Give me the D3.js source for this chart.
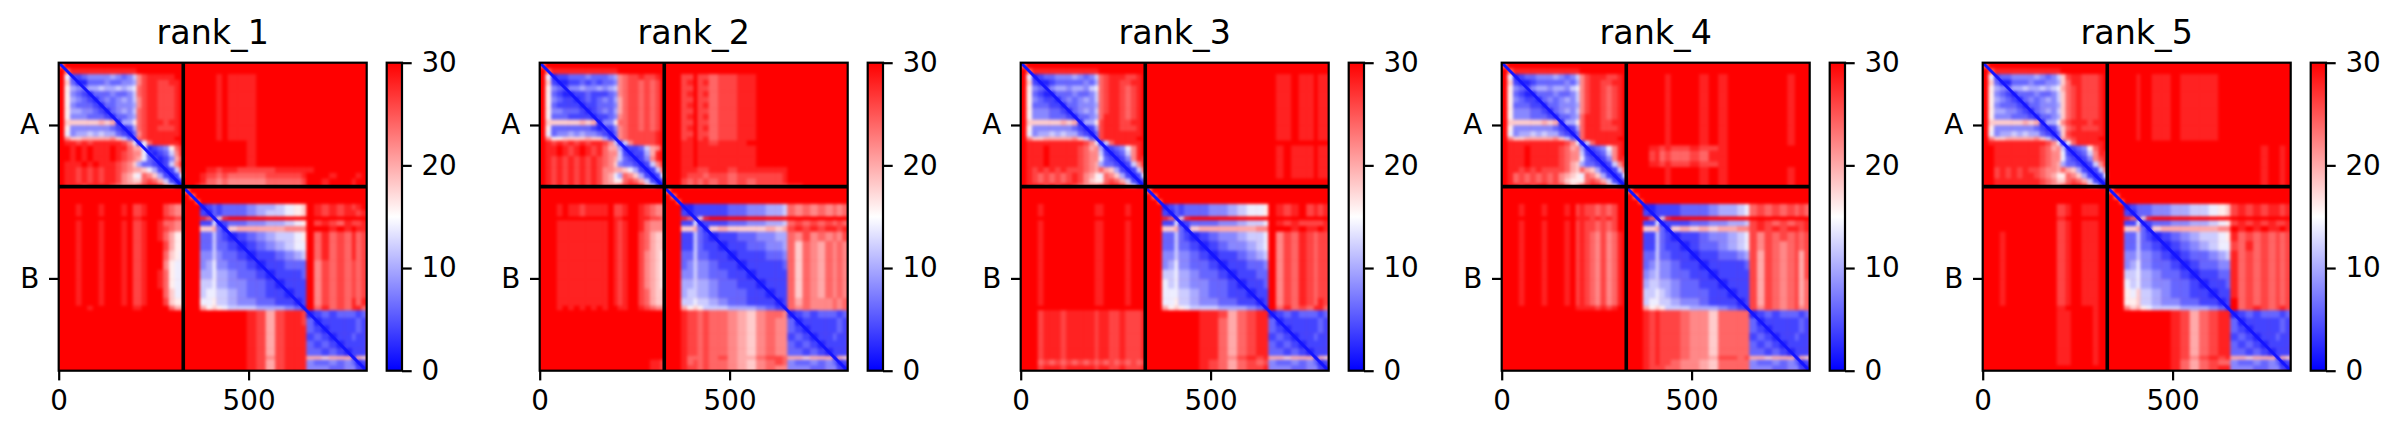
<!DOCTYPE html>
<html>
<head>
<meta charset="utf-8">
<script src="https://cdnjs.cloudflare.com/ajax/libs/d3/7.8.5/d3.min.js"></script>
<style>
body { margin: 0; background: #fff; }
text { font-family: "DejaVu Sans", sans-serif; fill: #000; }
</style>
</head>
<body>
<svg id="chart"></svg>
<script>
const rankTitles = ["rank_1", "rank_2", "rank_3", "rank_4", "rank_5"];
const chainLabels = ["A", "B"];
const chainTicks = [164, 568];
const chainBreak = 328;
const residueCount = 811;
const residueTicks = [0, 500];
const paeTicks = [0, 10, 20, 30];

// bin edges in residues, tighter where the blocks change
const residueEdges = [0, 15, 30, 45, 60, 75, 90, 105, 120, 135, 150, 165, 180, 195, 205, 218, 232, 246, 260, 275, 290, 305, 318, 328,
    345, 360, 372, 388, 405, 415, 430, 445, 470, 495, 520, 545, 570, 595, 620, 640, 652, 672, 692, 712, 732, 752, 772, 782, 797, 811];

// each char is PAE / 2 in hex. AA, AB = chain A rows, BA, BB = chain B rows
const rank1AA = ["cffffffffffffffffffffff", "fceeeeeeeeeeeefffffffff", "f7223444454346bdeeeeeff", "f9311333433445bdeeddeef", "f8543556556567cdeedddef", "f8432133343346cdeedddef", "f8543213434546bdeedddef", "f8433321334445bdeedddef", "f8554432134546cdeedddef", "f8444333213345cdeedddef", "f999999a9a1558cdeeedeef", "f8444444432125cdeedddef", "f7455656553213bdeeeeeef", "fb99aaaaab9632cdeeeeeff", "feededeeeeedb717ceeeeef", "ffefefeeefeecaa612348cef", "ffefefeeefedcbb721236bee", "ffefefeeefedcba732124ade", "feeefefeeedcb95332126be", "feedededeedcbaa9752126c", "feedededeedba87cb952127", "feedededeedba99cdca6212", "feeedeeeedcbbbcdeeda620"];
const rank1AB = ["ffffffffffffffffffffffffff", "ffffffffffffffffffffffffff", "ffffffefeeefffffffffffffff", "ffffffefeeefffffffffffffff", "ffffffefeeefffffffffffffff", "ffffffefeeefffffffffffffff", "ffffffefeeefffffffffffffff", "ffffffefeeefffffffffffffff", "ffffffefeeefffffffffffffff", "ffffffefeeefffffffffffffff", "ffffffefeeefffffffffffffff", "ffffffefeeefffffffffffffff", "ffffffefeeefffffffffffffff", "ffffffefeeefffffffffffffff", "ffffffffffefffffffffffffff", "ffffffffffefffffffffffffff", "ffffffffffefffffffffffffff", "ffffffffffefffffffffffffff", "ffffffffffefffffffffffffff", "ffffeedeeddddeeeeeffffffff", "fffeddcdccccddddefffefffef", "fffeccbcbbbbccccdffefffeff", "ffedccbcbbbbccccdffefffeff"];
const rank1BA = ["fffffffffffffffffffffff", "fffffffffffffffffffffff", "fffffffffffffffffffffff", "fffefffefffefddefffdcbb", "fffefffefffefddefffdcbb", "fffffffffffffeeffffeedd", "fffefffefffefddeffeccbb", "fffefffefffefddeffedcbb", "fffefffefffefddeffeca88", "fffefffefffefddefffda88", "fffefffefffefddefffc987", "fffefffefffefddefffb877", "fffefffefffefddeffec877", "fffefffefffefddeffec877", "fffefffefffefddefffc977", "fffefffefffefddefffd988", "fffffefffffffeefffffcaa", "fffffffffffffffffffffff", "fffffffffffffffffffffff", "fffffffffffffffffffffff", "fffffffffffffffffffffff", "fffffffffffffffffffffff", "fffffffffffffffffffffff", "fffffffffffffffffffffff", "fffffffffffffffffffffff", "fffffffffffffffffffffff"];
const rank1BB = ["cffffffffffffffffffffffffff", "fcfffffffffffffffffffffffff", "ffcffffffffffffffffffffffff", "fff12323334556789fededede", "fff21323334566789fededeede", "fffec19efffffffffffffffff", "fff22712334455678fdedcedde", "fff99a319aaaaabbbfffefefee", "fff33632123456678fcecdcecd", "fff33633212345677fcecdcecd", "fff44643321223456fcecdcecd", "fff45744332122333fbdcdcdcd", "fff55755433212223fbdcdcdcd", "fff66755443321222fbdcdcdcd", "fff67766543322122fbdcdcdcd", "fff77866544332212fbdcdcece", "fffa8987666555431fcecdceec", "ffffffffffedadeed123233323", "ffffffffffedadeed312222232", "ffffffffffedadeee321222232", "ffffffffffedadeee232122322", "ffffffffffedadeee323212222", "ffffffffffedadeee332321222", "ffffffffffedbdeeeaa9aaa1a9", "ffffffffffedadeee433434312", "ffffffffffedadeee444334421"];

const rank2AA = ["cffffffffffffffffffffff", "fceeeeeeeeeeeefffffffff", "f7122333433345bcddeddef", "f9211223232334bcddcdcdf", "f8432445445456bcddcdcdf", "f8321122322234bcddcdcdf", "f8432212323435acddcdcdf", "f8322221223334acddcdcdf", "f8443332123435acddcdcdf", "f8333222212234bcddcdcdf", "f999999a9a1448ccddcdcdf", "f8333333321224bcddcdcdf", "f7344545443213bcdddddef", "fb889999a99522bcdddddef", "fededededeedb616bddddef", "feefedefedecaa512236abf", "feefedefedecbb621225aef", "fedededededcba632124bef", "fedededededcb94332126be", "fedededededbbaa9752126c", "fedededededba75cb952127", "fedededededba88cdca6212", "fedededededbbbcdeeda620"];
const rank2AB = ["ffffffffffffffffffffffffff", "ffffffffffffffffffffffffff", "fffddfddcddeefffffffffffff", "fffdefdecddeefffffffffffff", "fffddfddcddeefffffffffffff", "fffdefdecddeefffffffffffff", "fffddfddcddeefffffffffffff", "fffdefdecddeefffffffffffff", "fffddfddcddeefffffffffffff", "fffdefdecddeefffffffffffff", "fffddfddcddeefffffffffffff", "fffdefdecddeefffffffffffff", "fffddfddcddeefffffffffffff", "fffdefdecddeefffffffffffff", "fffeefeedeeeffffffffffffff", "fffeefeeeeeeefffffffffffff", "fffeefeeeeeeefffffffffffff", "fffeefeeeeeeefffffffffffff", "fffeefeeeeeeefffffffffffff", "fffeeeddeedeeeeeefffffffff", "fffedddcddcdddddefffffffff", "fffdcdcdcdcdcdddefffffffff", "fffdcdcdcdcdcddddeefffffff"];
const rank2BA = ["fffffffffffffffffffffff", "fffffffffffffffffffffff", "fffffffffffffffffffffff", "fffefeedeeeefddeffedcbb", "fffefeedeeeefddeffedcbb", "fffffffffffffeefffeeddc", "fffeeeeeeeeefedeffecbbb", "fffeeeeeeeeefedeffecbbb", "fffeeeeeeeeefedeffdca99", "fffeeeeeeeeefedeffdca99", "fffeeeeeeeeefedeffdba98", "fffeeeeeeeeefedeffdba98", "fffeeeeeeeeefedeffdba98", "fffeeeeeeeeefedeffdba98", "fffeeeeeeeeefedeffdca99", "fffeeeeeeeeefedeffdca99", "fffefefefefeffeeffedcbb", "fffffffffffffffffffffff", "fffffffffffffffffffffff", "fffffffffffffffffffffff", "fffffffffffffffffffffff", "fffffffffffffffffffffff", "fffffffffffffffffffffff", "fffffffffffffffffffffff", "ffffffffffffffffffffeed", "ffffffffffffffffffffeed"];
const rank2BB = ["cffffffffffffffffffffffffff", "fcfffffffffffffffffffffffff", "ffcffffffffffffffffffffffff", "fff11222223344556cbcbcbcbc", "fff21222223344556cbcbcbcbc", "fffec19efffffffffffffffff", "fff22712223344556cdcdcdcdc", "fff99a319a9999a9adededeede", "fff22632122334455cbdbcbcbd", "fff22632212233445c9cbacbcb", "fff33633221222334c9cbacbcb", "fff34644322122223c9cbacbcb", "fff44644332212222c9cbacbcb", "fff55655433221222c9cbacbcb", "fff56655433322122c9cbacbcb", "fff66766543322212cacbbbcbc", "fffa8986665554321cbcbbbcbc", "fffeddcdccba9bccb123233323", "fffeddcdccba9bcbb312222232", "fffeddcdccba9bcbb321222232", "fffeddcdccba9bcbb232122322", "fffeddcdccba9bcbb323212222", "fffeddcdccba9bcbb332321222", "fffecccdcdbaacddcaa9aaa1a9", "fffecdcdccba9bcdc433434312", "fffeddcdccba9bcbb444334421"];

const rank3AA = ["cffffffffffffffffffffff", "fceeeeeeeeeeeefffffffff", "f7123344454346cdeeeddef", "f9211233333435cdeeddeef", "f8432455455467cdeedcdef", "f8321133343346cdeedcdef", "f8432213434546cdeedcdef", "f8333221334445cdeedcdef", "f8444332134546cdeedcdef", "f8444333213345ceeedcdef", "f999999a9a1558deeeddeef", "f8444444432125deeedddef", "f7455656553213deeeeeeef", "fb99aaaaab9632deeeeeeff", "feeeeeeeeeedb716ceeeeef", "feeefeeeeedcab512347bef", "feeefeeeeedcbb621236bef", "feeefeeeeedcbb732124bee", "feeefeeeeedcba5332126be", "fededededddcbaca952126c", "fedcdcdcdedba87cb952127", "fedcdcdcdedb988cdca6212", "feeededeedcbbbcdeeda620"];
const rank3AB = ["ffffffffffffffffffffffffff", "ffffffffffffffffffffffffff", "ffffffffffffffffffeefeefee", "ffffffffffffffffffeefeefee", "ffffffffffffffffffeefeefee", "ffffffffffffffffffeefeefee", "ffffffffffffffffffeefeefee", "ffffffffffffffffffeefeefee", "ffffffffffffffffffeefeefee", "ffffffffffffffffffeefeefee", "ffffffffffffffffffeefeefee", "ffffffffffffffffffeefeefee", "ffffffffffffffffffeefeefee", "ffffffffffffffffffeefeefee", "ffffffffffffffffffffffffff", "ffffffffffffffffffefeeefee", "ffffffffffffffffffefeeefee", "ffffffffffffffffffefeeefee", "ffffffffffffffffffefeeefee", "ffffffffffffffffffefeeefee", "ffffffffffffffffffefeeefee", "ffffffffffffffffffffffffff", "ffffffffffffffffffffffffff"];
const rank3BA = ["fffffffffffffffffffffff", "fffffffffffffffffffffff", "fffffffffffffffffffffff", "fffefffffffffeeffffefff", "fffefffffffffeeffffefff", "fffffffffffffffffffffff", "fffefffffffffeeffffefff", "fffefffffffffeeffffefff", "fffefffffffffeeffffefff", "fffefffffffffeeffffefff", "fffefffffffffeeffffefff", "fffefffffffffeeffffefff", "fffefffffffffeeffffefff", "fffefffffffffeeffffefff", "fffefffffffffeeffffefff", "fffefffffffffeeffffefff", "fffffffffffffffffffffff", "fffdeeedeeeeedeeddeddde", "fffdeeedeeeeedeeddeddde", "fffdeeedeeeeedeeddeddde", "fffdeeedeeeeedeeddeddde", "fffdeeedeeeeedeeddeddde", "fffdeeedeeeeedeeddeddde", "fffdeeedeeeeedeeddeddde", "fffcdcdcdcdcdcdcdcdcdcd", "fffdeeedeeeeedeeddeddde"];
const rank3BB = ["cffffffffffffffffffffffffff", "fcfffffffffffffffffffffffff", "ffcffffffffffffffffffffffff", "fff12323334456778fedefdede", "fff21323334456778fedefdede", "fffec19efffffffffffffffff", "fff22712333445667fededddde", "fff99a319aaaaaabbfffefeefe", "fff33632123445667fbdcedcdd", "fff33633212344567fbdcedcdd", "fff44644321223456fbdcedcdd", "fff45744332122334fbdcedcdd", "fff66755433212233fbdcedcdd", "fff76755443321223fbdcedcdd", "fff77766543322122fbdcedcdd", "fff77866544332212fbdcedced", "fffa8987666555431fcecdceec", "fffffffffeedacdee123233323", "fffffffffeecacdee312222232", "fffffffffeecacdee321222232", "fffffffffeecacdee232122322", "fffffffffeecacdee323212222", "fffffffffeecacdee332321222", "fffffffffeecbdedeaa9aaa1a9", "fffffffffedcacdcd433434312", "fffffffffedcacdde444334421"];

const rank4AA = ["cffffffffffffffffffffff", "fceeeeeeeeeeeefffffffff", "f7123344454346bdeeeddef", "f9211233333435bdeeddeef", "f8432455455467bdeedcdef", "f8321133343346bdeedcdef", "f8432213434546bdeedcdef", "f8333221334445bdeedcdef", "f8444332134546bdeedcdef", "f8444333213345ceeedcdef", "f999999a9a1558ceeeddeef", "f8444444432125ceeedddef", "f7455656553213ceeeeeeef", "fb99aaaaab9632ceeeeeeff", "feeeeeeeeeedb716ceeeeef", "feeefeeeeedcab512347bef", "feeefeeeeedcbb621236bef", "feeefeeeeedcbb732124bee", "feeefeeeeedca95332126be", "feedededdddca9ca952126c", "fecdcdcdcdba987cb952127", "fecdcdcdcdb9888cdca6212", "feededeedddb9acdeeda620"];
const rank4AB = ["ffffffffffffffffffffffffff", "ffffffffffffffffffffffffff", "fffffffefffefeffffffffefff", "fffffffefffefeffffffffefff", "fffffffefffefeffffffffefff", "fffffffefffefeffffffffefff", "fffffffefffefeffffffffefff", "fffffffefffefeffffffffefff", "fffffffefffefeffffffffefff", "fffffffefffefeffffffffefff", "fffffffefffefeffffffffefff", "fffffffefffefeffffffffefff", "fffffffefffefeffffffffefff", "fffffffefffefeffffffffefff", "fffffffefffefeffffffffefff", "ffffeededdeddefffffffffff", "ffffdecdccdceefffffffffff", "ffffdecdccdceefffffffffff", "ffffeededdeddefffffffffff", "fffffffefffefeffffffffefff", "fffffffefffefeffffffffefff", "fffffffefffefeffffffffefff", "fffffffefffefeffffffffefff"];
const rank4BA = ["fffffffffffffffffffffff", "fffffffffffffffffffffff", "fffffffffffffffffffffff", "fffefffefffefdeddcdcdff", "fffefffefffefdeddcdcdff", "fffffffffffffeeedededff", "fffefffefffefdeddcdcdff", "fffefffefffefdeddcdcdff", "fffefffefffefdedcbdbcef", "fffefffefffefdedcbdbcef", "fffefffefffefdedcbdbcef", "fffefffefffefdedcbdbcef", "fffefffefffefdedcbdbcef", "fffefffefffefdedcbdbcef", "fffefffefffefdedcbdbcef", "fffefffefffefdedcbdbcef", "fffffffffffffeeeededeff", "fffffffffffffffffffffff", "fffffffffffffffffffffff", "fffffffffffffffffffffff", "fffffffffffffffffffffff", "fffffffffffffffffffffff", "fffffffffffffffffffffff", "fffffffffffffffffffffff", "fffffffffffffffffffffff", "fffffffffffffffffffffff"];
const rank4BB = ["cffffffffffffffffffffffffff", "fcfffffffffffffffffffffffff", "ffcffffffffffffffffffffffff", "fff11222233345567cdcdcdcdc", "fff21222233345567cdcdcdcdc", "ffffc19efffffffffffffffff", "fff22712223344556dedcdcdde", "fff99a319a9a9aabbdededeede", "fff22632122344567dbdcdcdcd", "fff22632212334567dbdcbcdcd", "fff33633221223345dadcbcdad", "fff34644322122223dadcbcdad", "fff45644332212222dadcbcdad", "fff56655433221222dadcbcdac", "fff66765433322122dadcbcdac", "fff67766544322212dadcbcdac", "fffa8986665554321dbdcbcdbc", "fffededddcbb9cccc123233323", "fffededddcbb9cccc312222232", "fffededddcbb9cccc321222232", "fffededddcbb9cccc232122322", "fffededddcbb9cccc323212222", "fffededddcbb9cccc332321222", "fffededddcbbaddcdaa9aaa1a9", "fffededdcbba9cccc433434312", "fffedddccbba9cccc444334421"];

const rank5AA = ["cffffffffffffffffffffff", "fceeeeeeeeeeeefffffffff", "f72334444543469deedddef", "f93113334334459ceedddef", "f8543556556567acdedddef", "f84321333433469cdedddef", "f85432134345469cdedddef", "f84333213344459cdedddef", "f85544321345469cdedddef", "f84443332133459cdedddef", "f999999a9a1558bdeeedeef", "f84444444321259cdedddef", "f74556565532139deeeeeef", "fb99aaaaab9632acdeeeeff", "feeeeeeeeeedb717ceeeeef", "ffeeeeeeeedcab612348cef", "ffeeeeeeeedcbb721236bee", "ffeeeeeeeedcbb732124bde", "ffeeeeeeeedcba5332126be", "ffdedededdcbbaca952126c", "ffdededeedcba88cb952127", "ffeeeeeeeedcb99cdca6212", "ffeeeeeeeedcbbcdeeda620"];
const rank5AB = ["ffffffffffffffffffffffffff", "ffffffffffffffffffffffffff", "fffffeffeefeeeefffffffffff", "fffffeffeefeeeefffffffffff", "fffffeffeefeeeefffffffffff", "fffffeffeefeeeefffffffffff", "fffffeffeefeeeefffffffffff", "fffffeffeefeeeefffffffffff", "fffffeffeefeeeefffffffffff", "fffffeffeefeeeefffffffffff", "fffffeffeefeeeefffffffffff", "fffffeffeefeeeefffffffffff", "fffffeffeefeeeefffffffffff", "fffffeffeefeeeefffffffffff", "ffffffffffffffffffffffffff", "fffffffffffffffffffffeffef", "fffffffffffffffffffffeffef", "fffffffffffffffffffffeffef", "fffffffffffffffffffffeffef", "fffffffffffffffffffffeffef", "fffffffffffffffffffffeffef", "fffffffffffffffffffffeffef", "fffffffffffffffffffffeffef"];
const rank5BA = ["fffffffffffffffffffffff", "fffffffffffffffffffffff", "fffffffffffffffffffffff", "fffffffffffffddeffeeeff", "fffffffffffffddeffeeeff", "fffffffffffffeeffffffff", "fffffffffffffddeffeeeff", "fffffffffffffddeffeeeff", "fffefffffffffddeffeeeff", "fffefffffffffddeffeeeff", "fffefffffffffddeffeeeff", "fffefffffffffddeffeeeff", "fffefffffffffddeffeeeff", "fffefffffffffddeffeeeff", "fffefffffffffddeffeeeff", "fffefffffffffddeffeeeff", "fffffffffffffeefffffeff", "fffffffffffffeeeffffeff", "fffffffffffffeeeffffeff", "fffffffffffffeeeffffeff", "fffffffffffffeeeffffeff", "fffffffffffffeeeffffeff", "fffffffffffffeeeffffeff", "fffffffffffffeeeffffeff", "fffffffffffffeeeffffeff", "fffffffffffffffffffffff"];
const rank5BB = ["cffffffffffffffffffffffffff", "fcfffffffffffffffffffffffff", "ffcffffffffffffffffffffffff", "fff12333445566789dededeede", "fff21333445566789dededeede", "fffec19efffffffffffffffff", "fff22712334455678dedededde", "fff99a319aaaaaabbfefefeefe", "fff33632123456678ecdcdcdcd", "fff33633212345677dcecdcdcd", "fff44644321233456ecdcdcdcd", "fff45744332123344ecdcdcdcd", "fff66755433212233ecdcdcdcd", "fff76755443321223ecdcdcdcd", "fff87966543322122ecdcdcdcd", "fff88966544332212fcdcdcdcd", "fffb9a87666555431fcdedcded", "ffffffffffedacdee123233323", "ffffffffffedacdee312222232", "ffffffffffedacdee321222232", "ffffffffffedacdee232122322", "ffffffffffedacdee323212222", "ffffffffffedacdee332321222", "ffffffffffedbdedeaa9aaa1a9", "ffffffffffecacdcc433434312", "ffffffffffecacdee444334421"];

const rankBlocks = [
    [rank1AA, rank1AB, rank1BA, rank1BB],
    [rank2AA, rank2AB, rank2BA, rank2BB],
    [rank3AA, rank3AB, rank3BA, rank3BB],
    [rank4AA, rank4AB, rank4BA, rank4BB],
    [rank5AA, rank5AB, rank5BA, rank5BB]
];

const width = 2401;
const height = 438;
const panelLeft = 58.7;
const panelStep = 481;
const panelTop = 62.7;
const panelSize = 308;
const barGap = 20;
const barWidth = 15.3;
const fontSize = 27.8;
const lineWidth = 2.2;
const tickLength = 9.7;

const svg = d3.select("#chart").attr("width", width).attr("height", height)
    .style("display", "block");

const defs = svg.append("defs");
const blur = defs.append("filter").attr("id", "soften")
    .attr("x", "-5%").attr("y", "-5%").attr("width", "110%").attr("height", "110%")
    .attr("color-interpolation-filters", "sRGB");
blur.append("feGaussianBlur").attr("stdDeviation", 1.7);

const gradient = defs.append("linearGradient").attr("id", "barGradient")
    .attr("x1", 0).attr("y1", 1).attr("x2", 0).attr("y2", 0);

const color = d3.scaleLinear().domain([0, 15, 30]).range(["#0000ff", "#ffffff", "#ff0000"]);
[0, 15, 30].forEach(v => {
    gradient.append("stop").attr("offset", v / 30).attr("stop-color", color(v));
});

const x = d3.scaleLinear().domain([0, residueCount]).range([0, panelSize]);
const y = d3.scaleLinear().domain([0, residueCount]).range([0, panelSize]);
const barScale = d3.scaleLinear().domain([0, 30]).range([panelSize, 0]);

// pad a short row with full PAE so a miscounted string can't break the grid
function toCells(blocks) {
    const [aa, ab, ba, bb] = blocks;
    const rows = aa.map((r, i) => r.slice(0, 23).padEnd(23, "f") + ab[i].slice(0, 26).padEnd(26, "f"))
        .concat(ba.map((r, i) => r.slice(0, 23).padEnd(23, "f") + bb[i].slice(0, 26).padEnd(26, "f")));
    const cells = [];
    rows.forEach((row, i) => {
        Array.from(row).forEach((ch, j) => {
            cells.push({ row: i, col: j, pae: parseInt(ch, 16) * 2 });
        });
    });
    return cells;
}

function styleAxis(g) {
    g.select(".domain").remove();
    g.selectAll("line").attr("stroke", "#000").attr("stroke-width", lineWidth);
    g.selectAll("text").attr("font-size", fontSize);
}

rankTitles.forEach((title, p) => {
    const g = svg.append("g")
        .attr("transform", `translate(${panelLeft + p * panelStep},${panelTop})`);

    g.append("clipPath").attr("id", `clip${p}`)
        .append("rect").attr("width", panelSize).attr("height", panelSize);

    const plot = g.append("g").attr("clip-path", `url(#clip${p})`);
    plot.append("rect").attr("width", panelSize).attr("height", panelSize).attr("fill", "#ff0000");

    plot.append("g").attr("filter", "url(#soften)")
        .selectAll("rect")
        .data(toCells(rankBlocks[p]))
        .join("rect")
        .attr("x", d => x(residueEdges[d.col]))
        .attr("y", d => y(residueEdges[d.row]))
        .attr("width", d => x(residueEdges[d.col + 1]) - x(residueEdges[d.col]) + 0.5)
        .attr("height", d => y(residueEdges[d.row + 1]) - y(residueEdges[d.row]) + 0.5)
        .attr("fill", d => color(d.pae));

    // the low error diagonal is thinner than a bin
    plot.selectAll(".diagonal")
        .data([[0, chainBreak], [chainBreak, residueCount]])
        .join("line")
        .attr("class", "diagonal")
        .attr("x1", d => x(d[0])).attr("y1", d => y(d[0]))
        .attr("x2", d => x(d[1])).attr("y2", d => y(d[1]))
        .attr("stroke", "#1414ff").attr("stroke-width", 3);

    // chain dividers
    g.append("line")
        .attr("x1", x(chainBreak)).attr("x2", x(chainBreak))
        .attr("y1", 0).attr("y2", panelSize)
        .attr("stroke", "#000").attr("stroke-width", 3.6);
    g.append("line")
        .attr("x1", 0).attr("x2", panelSize)
        .attr("y1", y(chainBreak) - 0.6).attr("y2", y(chainBreak) - 0.6)
        .attr("stroke", "#000").attr("stroke-width", 3.6);

    g.append("rect").attr("width", panelSize).attr("height", panelSize)
        .attr("fill", "none").attr("stroke", "#000").attr("stroke-width", lineWidth);

    g.append("g").attr("transform", `translate(0,${panelSize})`)
        .call(d3.axisBottom(x).tickValues(residueTicks).tickFormat(d3.format("d"))
            .tickSize(tickLength).tickPadding(9.7))
        .call(styleAxis);

    g.append("g")
        .call(d3.axisLeft(y).tickValues(chainTicks).tickFormat((d, i) => chainLabels[i])
            .tickSize(tickLength).tickPadding(9.7))
        .call(styleAxis);

    g.append("text")
        .attr("x", panelSize / 2).attr("y", -19)
        .attr("text-anchor", "middle")
        .attr("font-size", 33.3)
        .text(title);

    const bar = g.append("g").attr("transform", `translate(${panelSize + barGap},0)`);
    bar.append("rect").attr("width", barWidth).attr("height", panelSize)
        .attr("fill", "url(#barGradient)");
    bar.append("rect").attr("width", barWidth).attr("height", panelSize)
        .attr("fill", "none").attr("stroke", "#000").attr("stroke-width", lineWidth);
    bar.append("g").attr("transform", `translate(${barWidth},0)`)
        .call(d3.axisRight(barScale).tickValues(paeTicks)
            .tickSize(tickLength).tickPadding(9.7))
        .call(styleAxis);
});
</script>
</body>
</html>
